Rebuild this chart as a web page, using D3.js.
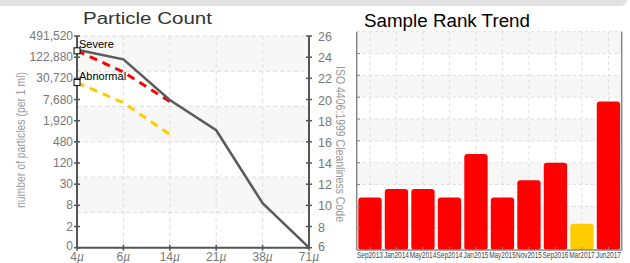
<!DOCTYPE html>
<html>
<head>
<meta charset="utf-8">
<script src="https://cdn.jsdelivr.net/npm/d3@7"></script>
<style>
  html, body { margin: 0; padding: 0; background: #fff; }
  svg { display: block; }
  text { font-family: "Liberation Sans", Arial, sans-serif; }
</style>
</head>
<body>
<svg id="chart" width="630" height="263"></svg>
<script>
// particle count chart
var sizes = ['4', '6', '14', '21', '38', '71'];
var codeTicks = [6, 8, 10, 12, 14, 16, 18, 20, 22, 24, 26];
var countLabels = ['0', '2', '8', '30', '120', '480', '1,920', '7,680', '30,720', '122,880', '491,520'];
var sampleCodes = [24.7, 23.8, 19.95, 17.1, 10.2, 6];
var severeCodes = [24.6, 22.6, 19.8];
var abnormalCodes = [21.6, 19.7, 16.7];

// sample rank trend
var dates = ['Sep2013', 'Jan2014', 'May2014', 'Sep2014', 'Jan2015', 'May2015', 'Nov2015', 'Sep2016', 'Mar2017', 'Jun2017'];
var ranks = [24, 28, 28, 24, 44, 24, 32, 40, 12, 68];
var rankLevel = ['bad', 'bad', 'bad', 'bad', 'bad', 'bad', 'bad', 'bad', 'warn', 'bad'];

var svg = d3.select('#chart');

// header strip
svg.append('rect')
    .attr('x', -10).attr('y', -10)
    .attr('width', 638).attr('height', 16)
    .attr('rx', 8)
    .attr('fill', '#e2e2e2');

// ---------- left chart ----------
var x = d3.scalePoint().domain(sizes).range([77, 309]);
var y = d3.scaleLinear().domain([6, 26]).range([247.7, 36]);
var grid = d3.scaleLinear().domain([0, 6]).range([247.7, 36]);

var left = svg.append('g');

d3.range(6).forEach(function (i) {
    if (i % 2 == 1) {
        left.append('rect')
            .attr('x', x('4')).attr('y', grid(i + 1))
            .attr('width', x('71') - x('4'))
            .attr('height', grid(i) - grid(i + 1))
            .attr('fill', '#f7f7f7');
    }
});

left.selectAll('.hgrid')
    .data(d3.range(1, 7))
    .enter().append('line')
    .attr('x1', x('4')).attr('x2', x('71'))
    .attr('y1', d => grid(d)).attr('y2', d => grid(d))
    .attr('stroke', '#ddd').attr('stroke-dasharray', '4,3');

left.selectAll('.vgrid')
    .data(sizes.slice(1, 5))
    .enter().append('line')
    .attr('x1', d => x(d)).attr('x2', d => x(d))
    .attr('y1', y(26)).attr('y2', y(6))
    .attr('stroke', '#ddd').attr('stroke-dasharray', '4,3');

var line = d3.line()
    .x((d, i) => x(sizes[i]))
    .y(d => y(d));

left.append('path')
    .attr('d', line(abnormalCodes))
    .attr('fill', 'none').attr('stroke', '#ffcc00')
    .attr('stroke-width', 3).attr('stroke-dasharray', '8,6');

left.append('path')
    .attr('d', line(severeCodes))
    .attr('fill', 'none').attr('stroke', '#ff0000')
    .attr('stroke-width', 3).attr('stroke-dasharray', '8,6');

left.append('path')
    .attr('d', line(sampleCodes))
    .attr('fill', 'none').attr('stroke', '#5a5a5a')
    .attr('stroke-width', 2.5);

// axes
var axisColor = '#555';
left.append('line')
    .attr('x1', x('4')).attr('x2', x('4'))
    .attr('y1', y(26)).attr('y2', y(6))
    .attr('stroke', axisColor).attr('stroke-width', 2);
left.append('line')
    .attr('x1', x('71')).attr('x2', x('71'))
    .attr('y1', y(26)).attr('y2', y(6))
    .attr('stroke', axisColor).attr('stroke-width', 2);
left.append('line')
    .attr('x1', x('4')).attr('x2', x('71'))
    .attr('y1', y(6)).attr('y2', y(6))
    .attr('stroke', axisColor).attr('stroke-width', 2);

codeTicks.forEach(function (c, i) {
    left.append('line')
        .attr('x1', x('4') - 3).attr('x2', x('4') + 3)
        .attr('y1', y(c)).attr('y2', y(c))
        .attr('stroke', axisColor).attr('stroke-width', 1.5);
    left.append('line')
        .attr('x1', x('71') - 3).attr('x2', x('71') + 3)
        .attr('y1', y(c)).attr('y2', y(c))
        .attr('stroke', axisColor).attr('stroke-width', 1.5);
    left.append('text')
        .attr('x', x('4') - 4).attr('y', y(c) + (i == 0 ? 2 : 4))
        .attr('text-anchor', 'end')
        .attr('font-size', 12).attr('fill', '#777')
        .text(countLabels[i]);
    left.append('text')
        .attr('x', x('71') + 9).attr('y', y(c) + (i == 0 ? 3 : 5))
        .attr('font-size', 12.5).attr('fill', '#777')
        .text(c);
});

sizes.forEach(function (s) {
    left.append('line')
        .attr('x1', x(s)).attr('x2', x(s))
        .attr('y1', y(6) - 3).attr('y2', y(6) + 3)
        .attr('stroke', axisColor).attr('stroke-width', 1.5);
    var t = left.append('text')
        .attr('x', x(s)).attr('y', 261)
        .attr('text-anchor', 'middle')
        .attr('font-size', 12).attr('fill', '#777');
    t.append('tspan').text(s);
    t.append('tspan').attr('font-style', 'italic').text('\u00b5');
});

// level markers
[['Severe', severeCodes[0]], ['Abnormal', abnormalCodes[0]]].forEach(function (m) {
    left.append('rect')
        .attr('x', x('4') - 3).attr('y', y(m[1]) - 3)
        .attr('width', 6).attr('height', 6)
        .attr('fill', '#fff').attr('stroke', '#000').attr('stroke-width', 1);
    left.append('text')
        .attr('x', x('4') + 2).attr('y', y(m[1]) - 3)
        .attr('font-size', 11).attr('fill', '#000')
        .text(m[0]);
});

svg.append('text')
    .attr('x', 83).attr('y', 24)
    .attr('font-family', 'DejaVu Sans').attr('font-size', 16)
    .attr('fill', '#333')
    .attr('textLength', 129).attr('lengthAdjust', 'spacingAndGlyphs')
    .text('Particle Count');

svg.append('text')
    .attr('transform', 'translate(25,140) rotate(-90)')
    .attr('text-anchor', 'middle')
    .attr('font-size', 12).attr('fill', '#999')
    .attr('textLength', 136).attr('lengthAdjust', 'spacingAndGlyphs')
    .text('number of particles (per 1 ml)');

svg.append('text')
    .attr('transform', 'translate(335.5,144) rotate(90)')
    .attr('text-anchor', 'middle')
    .attr('font-size', 12).attr('fill', '#999')
    .attr('textLength', 156).attr('lengthAdjust', 'spacingAndGlyphs')
    .text('ISO 4406:1999 Cleanliness Code');

// ---------- right chart ----------
var xb = d3.scaleBand().domain(dates).range([356.7, 621.7]).paddingInner(0.12).paddingOuter(0.06);
var yb = d3.scaleLinear().domain([0, 100]).range([250, 31.7]);
var right = svg.append('g');

d3.range(0, 100, 10).forEach(function (v, i) {
    if (i % 2 == 1) {
        right.append('rect')
            .attr('x', 356.7).attr('y', yb(v + 10))
            .attr('width', 265).attr('height', yb(v) - yb(v + 10))
            .attr('fill', '#f7f7f7');
    }
});

right.selectAll('.hgrid')
    .data(d3.range(10, 101, 10))
    .enter().append('line')
    .attr('x1', 356.7).attr('x2', 621.7)
    .attr('y1', d => yb(d)).attr('y2', d => yb(d))
    .attr('stroke', '#ddd').attr('stroke-dasharray', '3,3');

right.selectAll('.vgrid')
    .data(dates)
    .enter().append('line')
    .attr('x1', d => xb(d) + xb.bandwidth() / 2).attr('x2', d => xb(d) + xb.bandwidth() / 2)
    .attr('y1', yb(100)).attr('y2', yb(0))
    .attr('stroke', '#ddd').attr('stroke-dasharray', '3,3');

right.selectAll('.bar')
    .data(ranks)
    .enter().append('rect')
    .attr('x', (d, i) => xb(dates[i]))
    .attr('y', d => yb(d))
    .attr('width', xb.bandwidth())
    .attr('height', d => yb(0) - yb(d))
    .attr('rx', 3)
    .attr('fill', (d, i) => rankLevel[i] == 'warn' ? '#ffcc00' : '#ff0000');

right.append('line')
    .attr('x1', 356.7).attr('x2', 356.7)
    .attr('y1', yb(100)).attr('y2', yb(0))
    .attr('stroke', '#888').attr('stroke-width', 1.5);
right.append('line')
    .attr('x1', 621.7).attr('x2', 621.7)
    .attr('y1', yb(100)).attr('y2', yb(0))
    .attr('stroke', '#888').attr('stroke-width', 1.5);
right.append('line')
    .attr('x1', 356.7).attr('x2', 621.7)
    .attr('y1', yb(0)).attr('y2', yb(0))
    .attr('stroke', '#888').attr('stroke-width', 1.5);

d3.range(10, 100, 10).forEach(function (v) {
    right.append('line')
        .attr('x1', 356.7).attr('x2', 360)
        .attr('y1', yb(v)).attr('y2', yb(v))
        .attr('stroke', '#888');
});

dates.forEach(function (d) {
    var cx = xb(d) + xb.bandwidth() / 2;
    right.append('line')
        .attr('x1', cx).attr('x2', cx)
        .attr('y1', yb(0) - 3).attr('y2', yb(0))
        .attr('stroke', '#888');
    right.append('text')
        .attr('transform', 'translate(' + cx + ',258) scale(0.72,1)')
        .attr('text-anchor', 'middle')
        .attr('font-size', 9).attr('fill', '#444')
        .text(d);
});

svg.append('text')
    .attr('x', 364).attr('y', 26.5)
    .attr('font-size', 18).attr('fill', '#000')
    .attr('textLength', 166).attr('lengthAdjust', 'spacingAndGlyphs')
    .text('Sample Rank Trend');
</script>
</body>
</html>
